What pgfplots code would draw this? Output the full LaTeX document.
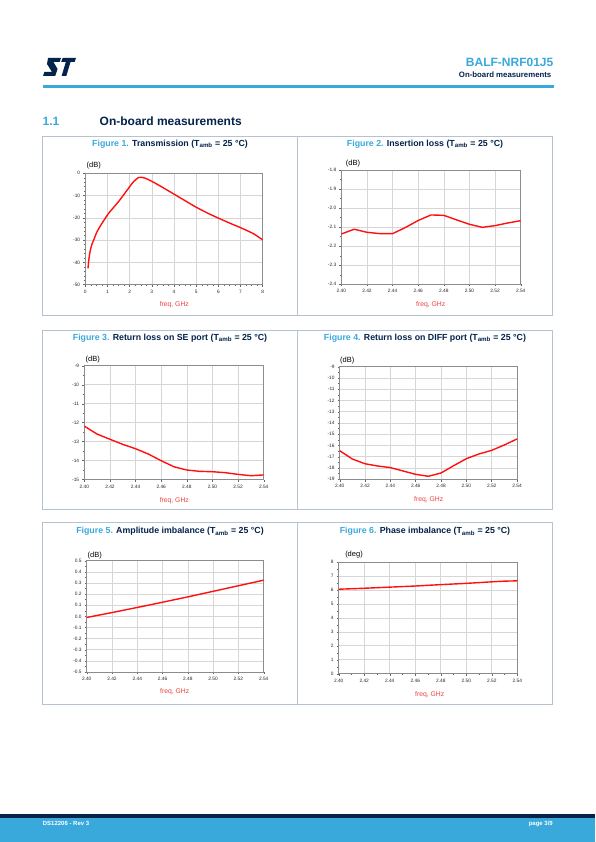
\documentclass[border=0pt]{standalone}
\usepackage{pgfplots}
\pgfplotsset{compat=1.18}
\usepackage{fontspec}
\setmainfont{Liberation Sans}
\definecolor{stblue}{HTML}{39A9DC}
\definecolor{stnavy}{HTML}{03234B}
\definecolor{framec}{HTML}{B4C3CF}
\definecolor{gridc}{HTML}{D6D6D6}
\definecolor{lblred}{HTML}{F04040}
\definecolor{curve}{HTML}{FF1010}

\pgfplotsset{
  stplot/.style={
    scale only axis,
    anchor=north west,
    grid=major,
    major grid style={gridc, line width=0.6pt},
    axis line style={black!45, line width=0.5pt},
    tick align=outside,
    tick pos=left,
    tick style={black!60, line width=0.4pt},
    major tick length=2.2pt,
    minor tick length=1.4pt,
    ticklabel style={font=\fontsize{4.8}{5}\selectfont, text=black!85},
    xticklabel style={yshift=0.6pt},
    yticklabel style={xshift=0.6pt},
    /pgf/number format/assume math mode=true,
  },
  rfx/.style={
    xmin=2.40, xmax=2.54,
    xtick={2.40,2.42,2.44,2.46,2.48,2.50,2.52,2.54},
    xticklabels={2.40,2.42,2.44,2.46,2.48,2.50,2.52,2.54},
  },
}
\tikzset{crv/.style={draw=curve, line width=1.4pt, mark=none, line join=round}}

\begin{document}
\begin{tikzpicture}
\useasboundingbox (0,0) rectangle (595pt,-842pt);
\fill[white] (0,0) rectangle (595pt,-842pt);

% ---------- header ----------
\fill[stnavy, shift={(43pt,-58pt)}, x=1pt, y=-1pt]
  (5,0) -- (18,0) -- (16.6,4) -- (10.5,4) -- (14.5,11) -- (12.2,18) -- (0,18) -- (1.4,14) -- (9,14) -- (4,6) -- cycle;
\fill[stnavy, shift={(43pt,-58pt)}, x=1pt, y=-1pt]
  (19.6,0) -- (33,0) -- (31.6,4) -- (27.5,4) -- (23.3,18) -- (18.6,18) -- (22.8,4) -- (18.2,4) -- cycle;
\node[anchor=east, inner sep=0pt, font=\fontsize{12}{14}\selectfont\bfseries, text=stblue] at (553.5pt,-62pt) {BALF-NRF01J5};
\node[anchor=east, inner sep=0pt, font=\fontsize{7.8}{9}\selectfont\bfseries, text=stnavy] at (551.5pt,-75pt) {On-board measurements};
\fill[stblue] (42.7pt,-85pt) rectangle (553.5pt,-87.8pt);

\node[anchor=west, inner sep=0pt, font=\fontsize{12}{14}\selectfont\bfseries, text=stblue] at (42.5pt,-121.7pt) {1.1};
\node[anchor=west, inner sep=0pt, font=\fontsize{12}{14}\selectfont\bfseries, text=stnavy] at (99.5pt,-121.7pt) {On-board measurements};

% ---------- frames ----------
\draw[framec, line width=0.8pt] (42.7pt,-136.3pt) rectangle (552.3pt,-315.3pt);
\draw[framec, line width=0.8pt] (297.5pt,-136.3pt) -- (297.5pt,-315.3pt);
\draw[framec, line width=0.8pt] (42.7pt,-330.3pt) rectangle (552.3pt,-509.5pt);
\draw[framec, line width=0.8pt] (297.5pt,-330.3pt) -- (297.5pt,-509.5pt);
\draw[framec, line width=0.8pt] (42.7pt,-522.7pt) rectangle (552.3pt,-704.3pt);
\draw[framec, line width=0.8pt] (297.5pt,-522.7pt) -- (297.5pt,-704.3pt);

% ---------- titles ----------
\tikzset{figt/.style={inner sep=0pt, font=\fontsize{8.8}{10}\selectfont\bfseries, text=stnavy}}
\node[figt] at (170pt,-144pt) {\textcolor{stblue}{Figure 1.} Transmission (T\textsubscript{amb} = 25 °C)};
\node[figt] at (425pt,-144pt) {\textcolor{stblue}{Figure 2.} Insertion loss (T\textsubscript{amb} = 25 °C)};
\node[figt] at (170pt,-338.3pt) {\textcolor{stblue}{Figure 3.} Return loss on SE port (T\textsubscript{amb} = 25 °C)};
\node[figt] at (425pt,-338.3pt) {\textcolor{stblue}{Figure 4.} Return loss on DIFF port (T\textsubscript{amb} = 25 °C)};
\node[figt] at (170pt,-531.5pt) {\textcolor{stblue}{Figure 5.} Amplitude imbalance (T\textsubscript{amb} = 25 °C)};
\node[figt] at (425pt,-531.5pt) {\textcolor{stblue}{Figure 6.} Phase imbalance (T\textsubscript{amb} = 25 °C)};

% ---------- Figure 1 ----------
\begin{axis}[stplot, at={(85.3pt,-173.3pt)}, width=177.4pt, height=111.4pt,
  xmin=0, xmax=8, ymin=-50, ymax=0,
  xtick={0,1,2,3,4,5,6,7,8}, ytick={-50,-40,-30,-20,-10,0},
  yticklabels={-50,-40,-30,-20,-10,0},
  minor x tick num=3, minor y tick num=4]
\addplot[crv, smooth, tension=0.4] coordinates {
(0.12,-42.7) (0.17,-38.0) (0.23,-34.4) (0.30,-31.8) (0.38,-29.9) (0.53,-26.2)
(0.75,-22.5) (1.05,-18.0) (1.50,-12.7) (1.95,-6.7) (2.18,-3.7) (2.40,-1.9)
(2.53,-1.8) (2.70,-2.2) (3.00,-3.6) (3.50,-6.4) (4.06,-9.7) (4.50,-12.3)
(4.96,-15.0) (5.50,-17.8) (6.02,-20.2) (6.50,-22.3) (7.07,-24.7) (7.60,-27.2) (8.00,-29.9)};
\end{axis}
\node[inner sep=0pt, font=\fontsize{7.5}{9}\selectfont] at (93.7pt,-165.7pt) {(dB)};
\node[inner sep=0pt, font=\fontsize{6.8}{8}\selectfont, text=lblred] at (174.3pt,-305pt) {freq, GHz};

% ---------- Figure 2 ----------
\begin{axis}[stplot, rfx, at={(341.3pt,-170pt)}, width=179.4pt, height=114.3pt,
  ymin=-2.4, ymax=-1.8,
  ytick={-2.4,-2.3,-2.2,-2.1,-2.0,-1.9,-1.8},
  yticklabels={-2.4,-2.3,-2.2,-2.1,-2.0,-1.9,-1.8},
  minor y tick num=1]
\addplot[crv] coordinates {
(2.40,-2.136) (2.41,-2.111) (2.42,-2.127) (2.43,-2.134) (2.44,-2.134)
(2.45,-2.102) (2.46,-2.065) (2.47,-2.036) (2.48,-2.038) (2.49,-2.062)
(2.50,-2.085) (2.51,-2.101) (2.52,-2.092) (2.53,-2.078) (2.54,-2.066)};
\end{axis}
\node[inner sep=0pt, font=\fontsize{7.5}{9}\selectfont] at (353pt,-163.3pt) {(dB)};
\node[inner sep=0pt, font=\fontsize{6.8}{8}\selectfont, text=lblred] at (430.7pt,-304.3pt) {freq, GHz};

% ---------- Figure 3 ----------
\begin{axis}[stplot, rfx, at={(84.3pt,-365.7pt)}, width=179.4pt, height=114pt,
  ymin=-15, ymax=-9,
  ytick={-15,-14,-13,-12,-11,-10,-9},
  yticklabels={-15,-14,-13,-12,-11,-10,-9},
  minor y tick num=1]
\addplot[crv] coordinates {
(2.40,-12.18) (2.41,-12.60) (2.42,-12.87) (2.43,-13.14) (2.44,-13.37)
(2.45,-13.65) (2.46,-14.00) (2.47,-14.32) (2.48,-14.49) (2.49,-14.56)
(2.50,-14.58) (2.51,-14.63) (2.52,-14.72) (2.53,-14.79) (2.54,-14.75)};
\end{axis}
\node[inner sep=0pt, font=\fontsize{7.5}{9}\selectfont] at (92.7pt,-360pt) {(dB)};
\node[inner sep=0pt, font=\fontsize{6.8}{8}\selectfont, text=lblred] at (174.3pt,-500.7pt) {freq, GHz};

% ---------- Figure 4 ----------
\begin{axis}[stplot, rfx, at={(339.7pt,-366.7pt)}, width=177.3pt, height=112.6pt,
  ymin=-19, ymax=-9,
  ytick={-19,-18,-17,-16,-15,-14,-13,-12,-11,-10,-9},
  yticklabels={-19,-18,-17,-16,-15,-14,-13,-12,-11,-10,-9},
  minor y tick num=1]
\addplot[crv] coordinates {
(2.40,-16.46) (2.41,-17.20) (2.42,-17.62) (2.43,-17.82) (2.44,-17.96)
(2.45,-18.26) (2.46,-18.56) (2.47,-18.73) (2.48,-18.44) (2.49,-17.79)
(2.50,-17.17) (2.51,-16.75) (2.52,-16.43) (2.53,-15.95) (2.54,-15.42)};
\end{axis}
\node[inner sep=0pt, font=\fontsize{7.5}{9}\selectfont] at (347.3pt,-360.7pt) {(dB)};
\node[inner sep=0pt, font=\fontsize{6.8}{8}\selectfont, text=lblred] at (428.7pt,-500pt) {freq, GHz};

% ---------- Figure 5 ----------
\begin{axis}[stplot, rfx, at={(86.7pt,-560.7pt)}, width=177pt, height=111.3pt,
  ymin=-0.5, ymax=0.5,
  ytick={-0.5,-0.4,-0.3,-0.2,-0.1,0,0.1,0.2,0.3,0.4,0.5},
  yticklabels={-0.5,-0.4,-0.3,-0.2,-0.1,0.0,0.1,0.2,0.3,0.4,0.5},
  minor y tick num=1]
\addplot[crv] coordinates {
(2.40,-0.010) (2.41,0.012) (2.42,0.034) (2.43,0.057) (2.44,0.080)
(2.45,0.103) (2.46,0.127) (2.47,0.151) (2.48,0.175) (2.49,0.200)
(2.50,0.225) (2.51,0.250) (2.52,0.275) (2.53,0.300) (2.54,0.325)};
\end{axis}
\node[inner sep=0pt, font=\fontsize{7.5}{9}\selectfont] at (94.7pt,-555.3pt) {(dB)};
\node[inner sep=0pt, font=\fontsize{6.8}{8}\selectfont, text=lblred] at (174.7pt,-692pt) {freq, GHz};

% ---------- Figure 6 ----------
\begin{axis}[stplot, rfx, at={(338.7pt,-562pt)}, width=178.6pt, height=111.7pt,
  ymin=0, ymax=8,
  ytick={0,1,2,3,4,5,6,7,8},
  yticklabels={0,1,2,3,4,5,6,7,8},
  minor y tick num=1, minor x tick num=1]
\addplot[crv] coordinates {
(2.40,6.05) (2.42,6.12) (2.44,6.20) (2.46,6.28) (2.48,6.38)
(2.50,6.47) (2.52,6.58) (2.53,6.63) (2.54,6.65)};
\end{axis}
\node[inner sep=0pt, font=\fontsize{7.5}{9}\selectfont] at (354pt,-554.3pt) {(deg)};
\node[inner sep=0pt, font=\fontsize{6.8}{8}\selectfont, text=lblred] at (429.7pt,-694.7pt) {freq, GHz};

% ---------- footer ----------
\fill[stnavy] (0,-814pt) rectangle (595pt,-818pt);
\fill[stblue] (0,-818pt) rectangle (595pt,-842pt);
\node[anchor=west, inner sep=0pt, font=\fontsize{6}{7}\selectfont\bfseries, text=white] at (42.7pt,-823.5pt) {DS12206 - Rev 3};
\node[anchor=east, inner sep=0pt, font=\fontsize{6}{7}\selectfont\bfseries, text=white] at (553pt,-823.5pt) {page 3/9};
\end{tikzpicture}
\end{document}
